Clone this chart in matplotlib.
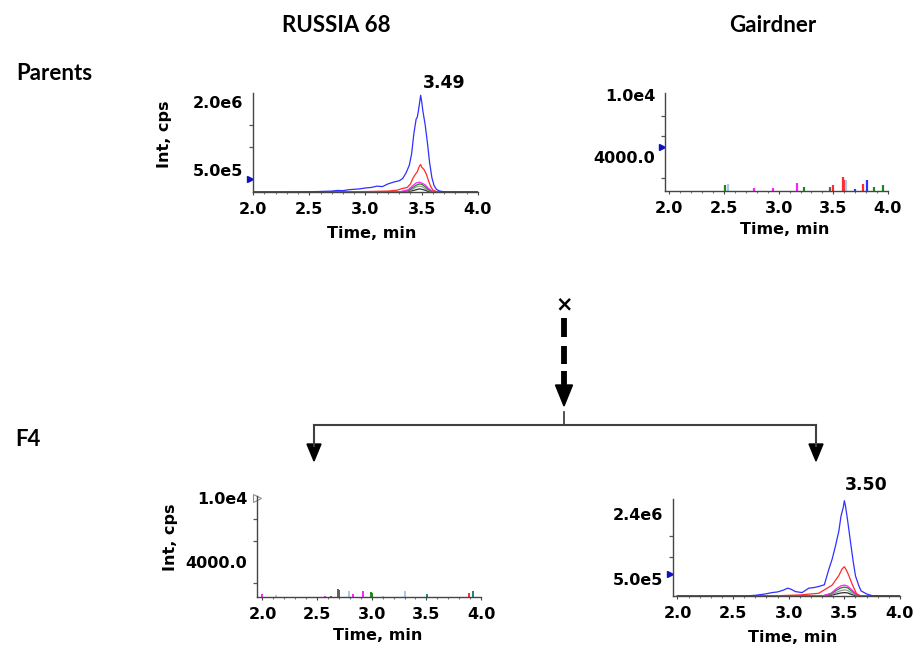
import matplotlib.pyplot as plt
from matplotlib.patches import Polygon
from matplotlib.ticker import FixedLocator, MultipleLocator
from matplotlib.transforms import blended_transform_factory

W, H = 920, 650

# ---------------- data ----------------
# Parents - RUSSIA 68, intensities in cps
p1_blue_t = [2.0, 2.3, 2.5, 2.6, 2.7, 2.75, 2.8, 2.85, 2.9, 2.95, 3.0, 3.05, 3.1, 3.15, 3.2,
             3.25, 3.3, 3.33, 3.36, 3.39, 3.41, 3.43, 3.45, 3.46, 3.47, 3.48, 3.49, 3.50, 3.51,
             3.53, 3.55, 3.57, 3.59, 3.61, 3.63, 3.66, 3.7, 3.8, 4.0]
p1_blue = [0, 0, 5e3, 1.2e4, 2e4, 3.5e4, 3e4, 5e4, 6e4, 7e4, 9e4, 1.0e5, 1.3e5, 1.2e5, 1.8e5,
           2.2e5, 2.5e5, 3.0e5, 4.2e5, 6.0e5, 8.5e5, 1.3e6, 1.62e6, 1.66e6, 1.8e6, 1.97e6, 2.15e6, 2.0e6, 1.8e6,
           1.5e6, 1.1e6, 6.5e5, 3.2e5, 1.4e5, 6e4, 2e4, 5e3, 0, 0]
p1_red_t = [2.0, 2.8, 3.0, 3.1, 3.2, 3.28, 3.33, 3.37, 3.4, 3.42, 3.44, 3.46, 3.48, 3.49, 3.5,
            3.52, 3.54, 3.56, 3.58, 3.6, 3.63, 3.7, 4.0]
p1_red = [0, 0, 1e4, 1.5e4, 2e4, 4e4, 8e4, 1.0e5, 1.8e5, 3.0e5, 3.8e5, 4.5e5, 5.8e5, 6.1e5, 5.5e5,
          5.0e5, 4.0e5, 2.5e5, 1.2e5, 4e4, 1e4, 0, 0]
p1_small_t = [2.0, 3.3, 3.38, 3.42, 3.45, 3.48, 3.5, 3.53, 3.56, 3.6, 4.0]
p1_magenta = [0, 0, 5e4, 1.4e5, 2.0e5, 2.2e5, 2.0e5, 1.6e5, 8e4, 1e4, 0]
p1_green = [0, 0, 3e4, 1.0e5, 1.5e5, 1.8e5, 1.7e5, 1.2e5, 5e4, 0, 0]
p1_gray = [0, 0, 2e4, 7e4, 1.1e5, 1.3e5, 1.2e5, 8e4, 3e4, 0, 0]
p1_black = [0, 0, 1e4, 3e4, 5e4, 7e4, 6e4, 4e4, 1e4, 0, 0]

# Parents - Gairdner: isolated noise spikes (time, height, colour)
p2_spike_t = [2.51, 2.54, 2.77, 2.95, 3.17, 3.23, 3.47, 3.50, 3.59, 3.61, 3.62, 3.70, 3.77, 3.81, 3.87, 3.95]
p2_spike_h = [1260, 1400, 970, 970, 1450, 1100, 1100, 1260, 2050, 1760, 1760, 850, 1400, 1760, 1100, 1260]
p2_spike_c = ['g', 'lb', 'm', 'm', 'm', 'g', 'k', 'r', 'r', 'r', 'lb', 'b', 'r', 'b', 'g', 'g']

# F4 - RUSSIA 68: isolated noise spikes
p3_spike_t = [2.00, 2.12, 2.57, 2.63, 2.69, 2.70, 2.79, 2.83, 2.92, 2.99, 3.00, 3.10, 3.30, 3.51, 3.89, 3.93]
p3_spike_h = [1000, 900, 800, 850, 1470, 1350, 1280, 1000, 1280, 1150, 1050, 850, 1280, 1000, 1050, 1280]
p3_spike_c = ['m', 'lg', 'm', 'k', 'k', 'k', 'lb', 'm', 'm', 'g', 'g', 'lg', 'lb', 't', 'r', 't']

# F4 - Gairdner
p4_blue_t = [2.0, 2.6, 2.7, 2.79, 2.85, 2.9, 2.95, 2.99, 3.02, 3.06, 3.12, 3.18, 3.23, 3.27, 3.32,
             3.36, 3.39, 3.42, 3.45, 3.47, 3.49, 3.50, 3.51, 3.53, 3.56, 3.58, 3.60, 3.63, 3.65,
             3.70, 3.75, 4.0]
p4_blue = [0, 0, 2e4, 6e4, 1.0e5, 1.2e5, 1.7e5, 2.3e5, 2.0e5, 1.3e5, 1.0e5, 2.3e5, 2.5e5, 2.8e5, 3.3e5,
           7.8e5, 1.08e6, 1.47e6, 1.9e6, 2.35e6, 2.6e6, 2.8e6, 2.65e6, 2.2e6, 1.47e6, 1.0e6, 5.9e5, 3.0e5, 1.5e5,
           6e4, 1e4, 0]
p4_red_t = [2.0, 2.7, 2.9, 3.1, 3.2, 3.27, 3.32, 3.39, 3.45, 3.48, 3.50, 3.52, 3.54, 3.57, 3.61, 3.65, 4.0]
p4_red = [0, 0, 1e4, 3e4, 6e4, 8e4, 1.8e5, 3.2e5, 6.0e5, 8.0e5, 8.6e5, 7.5e5, 6.0e5, 3.5e5, 6e4, 0, 0]
p4_small_t = [2.0, 3.3, 3.38, 3.43, 3.47, 3.50, 3.53, 3.56, 3.6, 3.64, 4.0]
p4_magenta = [0, 0, 8e4, 2.2e5, 3.0e5, 3.2e5, 2.9e5, 2.0e5, 8e4, 1e4, 0]
p4_green = [0, 0, 6e4, 1.7e5, 2.4e5, 2.6e5, 2.4e5, 1.6e5, 6e4, 0, 0]
p4_gray = [0, 0, 4e4, 1.1e5, 1.6e5, 1.8e5, 1.6e5, 1.0e5, 3e4, 0, 0]
p4_black = [0, 0, 2e4, 6e4, 9e4, 1.0e5, 9e4, 5e4, 1e4, 0, 0]

# axis settings per panel: (ylim, labelled ticks, tick labels, minor ticks, threshold marker)
p1_ylim = (0, 2.2e6)
p1_yt, p1_ytl = [5e5, 2.0e6], ["5.0e5", "2.0e6"]
p1_ymin = [5e5, 1.0e6, 1.5e6, 2.0e6]
p1_mark = 2.9e5
p2_ylim = (700, 10200)
p2_yt, p2_ytl = [4000, 10000], ["4000.0", "1.0e4"]
p2_ymin = [2000, 4000, 6000, 8000, 10000]
p2_mark = 4960
p3_ylim = (720, 10200)
p3_yt, p3_ytl = [4000, 10000], ["4000.0", "1.0e4"]
p3_ymin = [2000, 4000, 6000, 8000, 10000]
p3_mark = 10000
p4_ylim = (0, 2.85e6)
p4_yt, p4_ytl = [5e5, 2.4e6], ["5.0e5", "2.4e6"]
p4_ymin = [5e5, 1.133e6, 1.767e6, 2.4e6]
p4_mark = 6.5e5

xticks = [2.0, 2.5, 3.0, 3.5, 4.0]
xtick_labels = ["2.0", "2.5", "3.0", "3.5", "4.0"]

colors = {'b': '#3030ff', 'r': '#ff2a2a', 'm': '#ff20ff', 'g': '#1a8a1a', 'k': '#606060',
          'lb': '#a8c8ec', 'lg': '#c8c8c8', 't': '#208080'}

SMALL = 'DejaVu Sans'
BIG = 'Lato'

fig = plt.figure(figsize=(W / 100, H / 100), dpi=100)

# full-figure overlay in pixel coordinates for titles and arrows
ov = fig.add_axes([0, 0, 1, 1], zorder=0)
ov.set_xlim(0, W)
ov.set_ylim(H, 0)
ov.axis('off')


def panel(left, right, top, bottom, xlim, ylim):
    ax = fig.add_axes([left / W, 1 - bottom / H, (right - left) / W, (bottom - top) / H], zorder=2)
    ax.patch.set_alpha(0)
    ax.set_xlim(*xlim)
    ax.set_ylim(*ylim)
    for s in ['top', 'right']:
        ax.spines[s].set_visible(False)
    for s in ['left', 'bottom']:
        ax.spines[s].set_color('#454545')
        ax.spines[s].set_linewidth(1.0)
    ax.set_xticks(xticks)
    ax.set_xticklabels(xtick_labels)
    ax.xaxis.set_minor_locator(MultipleLocator(0.1))
    ax.tick_params(axis='x', which='major', length=2.5, width=0.8, color='#454545', pad=4.5,
                   labelsize=11.5)
    ax.tick_params(axis='both', which='minor', length=1.5, width=0.8, color='#777777')
    ax.tick_params(axis='y', which='major', length=0, pad=7, labelsize=11.5)
    for lab in ax.get_xticklabels() + ax.get_yticklabels():
        lab.set_fontfamily(SMALL)
        lab.set_fontweight('bold')
    return ax


def yaxis(ax, yt, ytl, ymin):
    ax.set_yticks(yt)
    ax.set_yticklabels(ytl, fontfamily=SMALL, fontweight='bold', fontsize=11.5)
    ax.yaxis.set_minor_locator(FixedLocator(ymin))
    ax.tick_params(axis='y', which='minor', length=3, width=0.9, color='#555555')


def marker(ax, y, filled=True):
    tr = blended_transform_factory(ax.transAxes, ax.transData)
    if filled:
        ax.plot([-0.012], [y], marker='>', ms=5, color='#1010c0', transform=tr, clip_on=False)
    else:
        ax.plot([0.0], [y], marker='>', ms=6, mfc='white', mec='#909090', mew=0.8,
                transform=tr, clip_on=False)


# Panel 1: Parents, RUSSIA 68
ax1 = panel(253, 478, 93, 192, (2.0, 4.0), p1_ylim)
yaxis(ax1, p1_yt, p1_ytl, p1_ymin)
ax1.plot(p1_small_t, p1_black, color='#303030', lw=0.9)
ax1.plot(p1_small_t, p1_gray, color='#999999', lw=0.9)
ax1.plot(p1_small_t, p1_green, color=colors['g'], lw=0.9)
ax1.plot(p1_small_t, p1_magenta, color=colors['m'], lw=0.9)
ax1.plot(p1_red_t, p1_red, color=colors['r'], lw=0.9)
ax1.plot(p1_blue_t, p1_blue, color=colors['b'], lw=0.9)
marker(ax1, p1_mark)

# Panel 2: Parents, Gairdner
ax2 = panel(665, 888, 93, 191, (1.96, 4.0), p2_ylim)
yaxis(ax2, p2_yt, p2_ytl, p2_ymin)
ax2.vlines(p2_spike_t, 0, p2_spike_h, colors=[colors[c] for c in p2_spike_c], lw=1.6)
marker(ax2, p2_mark)

# Panel 3: F4, RUSSIA 68
ax3 = panel(257, 481, 496, 597, (1.95, 4.0), p3_ylim)
yaxis(ax3, p3_yt, p3_ytl, p3_ymin)
ax3.vlines(p3_spike_t, 0, p3_spike_h, colors=[colors[c] for c in p3_spike_c], lw=1.4)
marker(ax3, p3_mark, filled=False)

# Panel 4: F4, Gairdner
ax4 = panel(673, 900, 499, 596, (1.96, 4.0), p4_ylim)
yaxis(ax4, p4_yt, p4_ytl, p4_ymin)
ax4.plot(p4_small_t, p4_black, color='#303030', lw=0.9)
ax4.plot(p4_small_t, p4_gray, color='#999999', lw=0.9)
ax4.plot(p4_small_t, p4_green, color=colors['g'], lw=0.9)
ax4.plot(p4_small_t, p4_magenta, color=colors['m'], lw=0.9)
ax4.plot(p4_red_t, p4_red, color=colors['r'], lw=0.9)
ax4.plot(p4_blue_t, p4_blue, color=colors['b'], lw=0.9)
marker(ax4, p4_mark)

# ---------------- text ----------------
big = dict(fontfamily=BIG, fontweight='bold', fontsize=16, color='black')
ov.text(336, 25, "RUSSIA 68", ha='center', va='center', **big)
ov.text(773, 26, "Gairdner", ha='center', va='center', **big)
ov.text(16, 74, "Parents", ha='left', va='center', **big)
ov.text(15, 440, "F4", ha='left', va='center', **big)

small = dict(fontfamily=SMALL, fontweight='bold', fontsize=11.5, color='black')
ov.text(165, 134, "Int, cps", rotation=90, ha='center', va='center', **small)
ov.text(171, 537, "Int, cps", rotation=90, ha='center', va='center', **small)
ov.text(372, 233, "Time, min", ha='center', va='center', **small)
ov.text(785, 229, "Time, min", ha='center', va='center', **small)
ov.text(378, 635, "Time, min", ha='center', va='center', **small)
ov.text(793, 638, "Time, min", ha='center', va='center', **small)
ov.text(444, 83, "3.49", ha='center', va='center', fontfamily=SMALL, fontweight='bold', fontsize=12.5)
ov.text(866, 485, "3.50", ha='center', va='center', fontfamily=SMALL, fontweight='bold', fontsize=12.5)

# ---------------- cross / arrows ----------------
ov.text(564, 304, "×", ha='center', va='center', fontfamily=SMALL, fontweight='bold', fontsize=15)
for y0, y1 in [(318, 337), (346, 364), (371, 387)]:
    ov.plot([564, 564], [y0, y1], color='black', lw=4.2, solid_capstyle='butt')
ov.add_patch(Polygon([(555.5, 385), (572.5, 385), (564, 406)], closed=True, color='black'))
ov.plot([564, 564], [412, 425], color='#333333', lw=1.2)
ov.plot([314, 816], [425, 425], color='#404040', lw=1.5)
for x in [314, 816]:
    ov.plot([x, x], [425, 446], color='#404040', lw=1.5)
    ov.add_patch(Polygon([(x - 7, 444), (x + 7, 444), (x, 461)], closed=True, color='black'))

fig.savefig('out.png', dpi=100)
